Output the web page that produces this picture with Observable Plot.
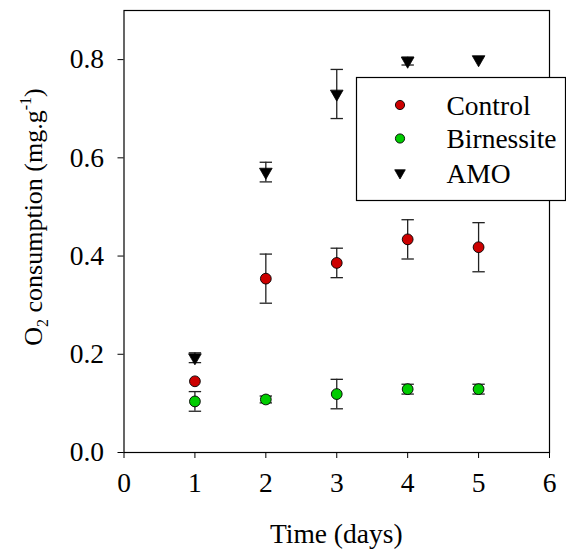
<!DOCTYPE html>
<html>
<head>
<meta charset="utf-8">
<script src="https://cdn.jsdelivr.net/npm/d3@7"></script>
<script src="https://cdn.jsdelivr.net/npm/@observablehq/plot@0.6"></script>
<style>
  html, body { margin: 0; padding: 0; background: white; }
  #chart { position: relative; width: 566px; height: 551px; }
  #chart svg, #chart svg text { font-family: "Liberation Serif", "Times New Roman", Tinos, "DejaVu Serif", serif !important; }
</style>
</head>
<body>
<div id="chart"></div>
<script>
// ---- data ----
const days = [1, 2, 3, 4, 5];
const controlMean = [0.145, 0.354, 0.386, 0.434, 0.418];
const controlErr  = [0.0,   0.050, 0.030, 0.040, 0.050];
const birnMean    = [0.104, 0.108, 0.119, 0.129, 0.129];
const birnErr     = [0.020, 0.007, 0.030, 0.010, 0.010];
const amoMean     = [0.193, 0.571, 0.730, 0.797, 0.800];
const amoErr      = [0.010, 0.020, 0.050, 0.008, 0.0];
const seriesNames = ["Control", "Birnessite", "AMO"];
const seriesFill  = ["#cc0000", "#00cc00", "#000000"];
const xTicks = [0, 1, 2, 3, 4, 5, 6];
const yTicks = [0.0, 0.2, 0.4, 0.6, 0.8];
const xLabel = "Time (days)";

// ---- build table ----
const means = [controlMean, birnMean, amoMean];
const errs = [controlErr, birnErr, amoErr];
const rows = [];
seriesNames.forEach((s, i) => days.forEach((d, j) => rows.push({
  series: s, day: d, mean: means[i][j], lo: means[i][j] - errs[i][j], hi: means[i][j] + errs[i][j]
})));

// custom symbols
const triangleDown = {
  draw(ctx, size) {
    const r = Math.sqrt(size / Math.PI);
    ctx.moveTo(-r * 1.15, -r * 0.7);
    ctx.lineTo(r * 1.15, -r * 0.7);
    ctx.lineTo(0, r * 1.3);
    ctx.closePath();
  }
};
const capLine = {
  draw(ctx, size) {
    const r = Math.sqrt(size / Math.PI);
    ctx.moveTo(-r, 0);
    ctx.lineTo(r, 0);
  }
};

const FONT = "Liberation Serif, Times New Roman, Tinos, DejaVu Serif, serif";
const FS = 27.5;

const circles = rows.filter(d => d.series !== "AMO");
const tris = rows.filter(d => d.series === "AMO");
const withErr = rows.filter(d => d.hi > d.lo);

const plot = Plot.plot({
  width: 566,
  height: 551,
  marginLeft: 123.5,
  marginRight: 17,
  marginTop: 10,
  marginBottom: 99,
  style: { fontFamily: FONT, fontSize: FS + "px", background: "white", color: "black", overflow: "visible" },
  x: { domain: [0, 6], ticks: xTicks, tickSize: 6, tickPadding: 14, tickFormat: d3.format("d"), label: null },
  y: { domain: [0, 0.9], ticks: yTicks, tickSize: 6, tickPadding: 14, tickFormat: d3.format(".1f"), label: null },
  color: { domain: seriesNames, range: seriesFill },
  marks: [
    Plot.frame({ stroke: "black", strokeWidth: 1.2 }),
    Plot.ruleX(withErr, { x: "day", y1: "lo", y2: "hi", stroke: "#222", strokeWidth: 1.3 }),
    Plot.dot(withErr, { x: "day", y: "hi", symbol: capLine, r: 6.2, stroke: "#222", strokeWidth: 1.3, fill: "none" }),
    Plot.dot(withErr, { x: "day", y: "lo", symbol: capLine, r: 6.2, stroke: "#222", strokeWidth: 1.3, fill: "none" }),
    Plot.dot(tris, { x: "day", y: "mean", symbol: triangleDown, r: 5.5, fill: "black", stroke: "black", strokeWidth: 0.8 }),
    Plot.dot(circles, { x: "day", y: "mean", r: 5.4, fill: d => d.series, stroke: "black", strokeWidth: 0.9 })
  ]
});

document.getElementById("chart").appendChild(plot);

// axis labels & legend
const svg = d3.select(plot.tagName.toLowerCase() === "svg" ? plot : plot.querySelector("svg"));
const W = 566, H = 551, mL = 123.5, mR = 17, mT = 10, mB = 99;
const cx = (mL + (W - mR)) / 2;

svg.append("text")
  .attr("x", cx).attr("y", 543)
  .attr("text-anchor", "middle")
  .attr("font-family", FONT).attr("font-size", FS).attr("fill", "black")
  .text(xLabel);

const yl = svg.append("text")
  .attr("transform", `translate(42,${217}) rotate(-90)`)
  .attr("text-anchor", "middle")
  .attr("font-family", FONT).attr("font-size", 26).attr("fill", "black");
yl.append("tspan").text("O");
yl.append("tspan").attr("dy", 6).attr("font-size", 16).text("2");
yl.append("tspan").attr("dy", -6).text(" consumption (mg.g");
yl.append("tspan").attr("dy", -11).attr("font-size", 16).text("-1");
yl.append("tspan").attr("dy", 11).text(")");

// legend
const lg = svg.append("g");
lg.append("rect").attr("x", 356.5).attr("y", 77.5).attr("width", 209).attr("height", 123)
  .attr("fill", "white").attr("stroke", "black").attr("stroke-width", 1.2);
const rowY = [105, 138.5, 173];
seriesNames.forEach((s, i) => {
  if (s === "AMO") {
    const r = 4.6;
    lg.append("path")
      .attr("d", `M${400 - r * 1.15},${rowY[i] - r * 0.7}L${400 + r * 1.15},${rowY[i] - r * 0.7}L400,${rowY[i] + r * 1.3}Z`)
      .attr("fill", "black").attr("stroke", "black").attr("stroke-width", 0.8);
  } else {
    lg.append("circle").attr("cx", 400).attr("cy", rowY[i]).attr("r", 4.6)
      .attr("fill", seriesFill[i]).attr("stroke", "black").attr("stroke-width", 0.9);
  }
  lg.append("text").attr("x", 446.5).attr("y", rowY[i]).attr("dy", "0.35em")
    .attr("text-anchor", "start")
    .attr("font-family", FONT).attr("font-size", FS).attr("fill", "black").text(s);
});
</script>
</body>
</html>
